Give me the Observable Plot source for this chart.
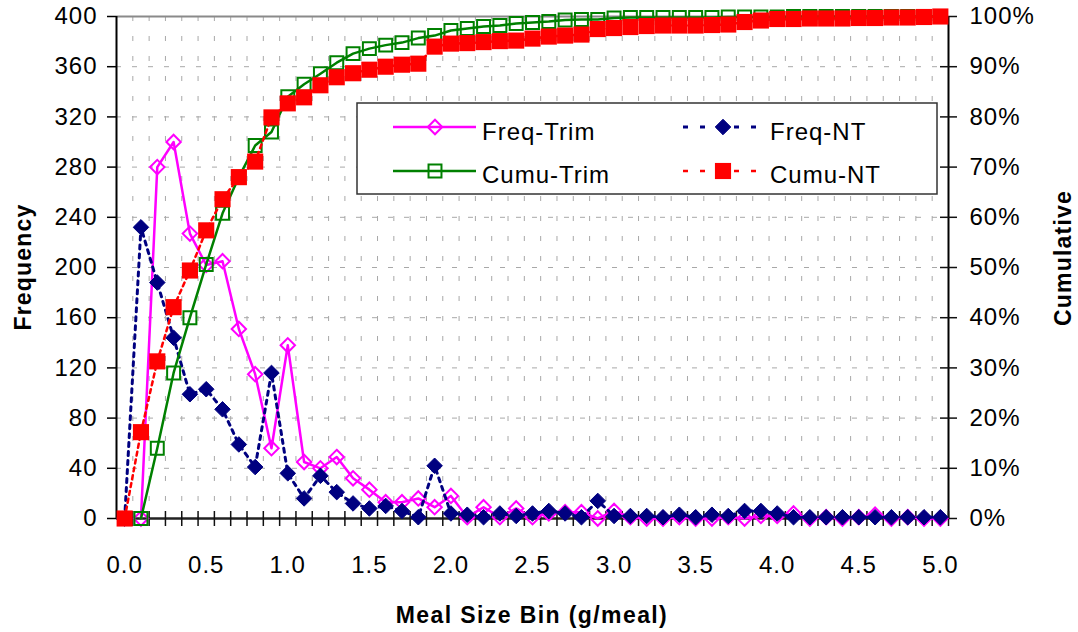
<!DOCTYPE html>
<html><head><meta charset="utf-8">
<script src="https://cdn.jsdelivr.net/npm/d3@7"></script>
<script src="https://cdn.jsdelivr.net/npm/@observablehq/plot@0.6"></script>
<style>
html,body{margin:0;padding:0;background:#fff}
#wrap{position:relative;width:1078px;height:632px;overflow:hidden;font-family:"Liberation Sans",Arial,sans-serif}
#wrap svg{position:absolute;left:0;top:0}
</style></head><body><div id="wrap"></div>
<script>
// ---- data ----
const bins = [0.0,0.1,0.2,0.3,0.4,0.5,0.6,0.7,0.8,0.9,1.0,1.1,1.2,1.3,1.4,1.5,1.6,1.7,1.8,1.9,2.0,2.1,2.2,2.3,2.4,2.5,2.6,2.7,2.8,2.9,3.0,3.1,3.2,3.3,3.4,3.5,3.6,3.7,3.8,3.9,4.0,4.1,4.2,4.3,4.4,4.5,4.6,4.7,4.8,4.9,5.0];
const freqTrim = [null,0,280,300,227,202,205,151,115,56,138,45,40,49,32,23,13,13,16,9,18,1,9,1,8,1,4,5,5,0,6,1,0,0,1,0,0,1,0,2,2,4,0,1,0,1,3,0,1,0,0];
const freqNT = [0,232,188,144,99,103,87,59,41,116,36,16,34,21,12,8,10,6,1,42,4,3,1,4,2,4,6,4,1,14,2,2,2,1,3,1,3,2,6,6,4,1,1,1,1,1,1,1,1,1,1];
const cumuTrim = [null,0,14,29,40,50.6,60.8,68,74.3,77,84,86.5,88.6,90.8,92.6,93.6,94.3,94.8,95.7,96.2,97.2,97.6,98,98.2,98.6,98.8,99,99.3,99.4,99.4,99.7,99.8,99.8,99.8,99.8,99.8,99.8,99.9,99.9,99.9,99.9,100,100,100,100,100,100,100,100,100,100];
const cumuNT = [0,17.2,31.3,42.1,49.4,57.4,63.6,68,71.1,79.9,82.7,83.9,86.3,87.9,88.7,89.4,90,90.4,90.6,94,94.6,94.7,94.9,95.1,95.2,95.6,96,96.2,96.4,97.5,97.7,97.9,98.1,98.2,98.2,98.2,98.3,98.4,98.9,99.2,99.5,99.5,99.6,99.6,99.6,99.7,99.7,99.8,99.8,99.9,100];
const seriesNames = ["Freq-Trim","Freq-NT","Cumu-Trim","Cumu-NT"];
const freqTicks = [0,40,80,120,160,200,240,280,320,360,400];
const xTickLabels = [0.0,0.5,1.0,1.5,2.0,2.5,3.0,3.5,4.0,4.5,5.0];
const xTitle = "Meal Size Bin (g/meal)";
const yTitleLeft = "Frequency";
const yTitleRight = "Cumulative";

// ---- derived table ----
const rows = bins.map((b, i) => ({bin: b, ft: freqTrim[i], fn: freqNT[i], ct: cumuTrim[i], cn: cumuNT[i]}));
const half = 0.05;
const xDomain = [bins[0] - half, bins[bins.length - 1] + half];
const boundaries = bins.map(b => +(b + half).toFixed(2));
const pctToFreq = 400 / 100;

const colors = {ft: "#FF00FF", fn: "#000080", ct: "#008000", cn: "#FF0000"};
const FONT = '"Liberation Sans", Arial, sans-serif';
const sizes = {ft: 6.5, fn: 7, ct: 7.3, cn: 9.1};

const plot = Plot.plot({
  width: 1078, height: 632,
  marginLeft: 116, marginRight: 130, marginTop: 16, marginBottom: 114,
  x: {domain: xDomain},
  y: {domain: [0, 400]},
  style: {fontFamily: FONT, fontSize: "24px", letterSpacing: "1px", color: "#000", background: "transparent"},
  marks: [
    Plot.gridY(freqTicks.filter(t => t > 0 && t < 400), {stroke: "#a8a8a8", strokeOpacity: 1, strokeWidth: 1, strokeDasharray: "5,11"}),
    Plot.gridX(boundaries.filter(b => b < xDomain[1]), {stroke: "#a8a8a8", strokeOpacity: 1, strokeWidth: 1, strokeDasharray: "5,15"}),
    Plot.ruleY([400], {stroke: "#8a8a8a", strokeWidth: 2}),
    Plot.ruleX([xDomain[0]], {stroke: "#000", strokeWidth: 2}),
    Plot.ruleX([xDomain[1]], {stroke: "#000", strokeWidth: 2}),
    Plot.ruleY([0], {stroke: "#222", strokeWidth: 2.5}),
    Plot.ruleX(boundaries, {y1: 0, y2: 0, insetTop: 8, insetBottom: 7, stroke: "#111", strokeWidth: 1.5}),
    Plot.ruleY(freqTicks, {x1: xDomain[1], x2: xDomain[1], insetLeft: 9, insetRight: 8, stroke: "#111", strokeWidth: 1.5}),
    Plot.axisY({ticks: freqTicks, tickSize: 9, tickPadding: 10, label: null, strokeWidth: 1.5}),
    Plot.axisY({anchor: "right", ticks: freqTicks, tickSize: 0, tickPadding: 21, label: null, tickFormat: d => `${d / pctToFreq}%`}),
    Plot.axisX({ticks: xTickLabels, tickSize: 0, tickPadding: 37, label: null, tickFormat: d => d.toFixed(1)}),
    // Freq-Trim
    Plot.line(rows.filter(d => d.ft != null), {x: "bin", y: "ft", stroke: colors.ft, strokeWidth: 2.5}),
    Plot.dot(rows.filter(d => d.ft != null), {x: "bin", y: "ft", symbol: "diamond2", r: sizes.ft, stroke: colors.ft, strokeWidth: 2, fill: "none"}),
    // Freq-NT
    Plot.line(rows, {x: "bin", y: "fn", stroke: colors.fn, strokeWidth: 3, strokeDasharray: "4,5"}),
    Plot.dot(rows, {x: "bin", y: "fn", symbol: "diamond2", r: sizes.fn, fill: colors.fn, stroke: colors.fn, strokeWidth: 1}),
    // Cumu-Trim
    Plot.line(rows.filter(d => d.ct != null), {x: "bin", y: d => d.ct * pctToFreq, stroke: colors.ct, strokeWidth: 2.5}),
    Plot.dot(rows.filter(d => d.ct != null), {x: "bin", y: d => d.ct * pctToFreq, symbol: "square", r: sizes.ct, stroke: colors.ct, strokeWidth: 2, fill: "none"}),
    // Cumu-NT
    Plot.line(rows, {x: "bin", y: d => d.cn * pctToFreq, stroke: colors.cn, strokeWidth: 2.5, strokeDasharray: "4,4"}),
    Plot.dot(rows, {x: "bin", y: d => d.cn * pctToFreq, symbol: "square", r: sizes.cn, fill: colors.cn, stroke: "none"})
  ]
});
const wrap = document.getElementById("wrap");
wrap.appendChild(plot);

// ---- overlay: titles & legend ----
const ov = d3.select(wrap).append("svg").attr("width", 1078).attr("height", 632)
  .style("pointer-events", "none").style("font-family", FONT);

ov.append("text").attr("transform", "translate(31,267) rotate(-90)").attr("text-anchor", "middle")
  .style("font-size", "23px").style("font-weight", "bold").style("letter-spacing", "1.2px").text(yTitleLeft);
ov.append("text").attr("transform", "translate(1071,258) rotate(-90)").attr("text-anchor", "middle")
  .style("font-size", "23px").style("font-weight", "bold").style("letter-spacing", "1.2px").text(yTitleRight);
ov.append("text").attr("x", 532).attr("y", 623).attr("text-anchor", "middle")
  .style("font-size", "23px").style("font-weight", "bold").style("letter-spacing", "1.4px").text(xTitle);

const lg = ov.append("g");
lg.append("rect").attr("x", 357).attr("y", 103).attr("width", 580).attr("height", 91)
  .attr("fill", "#fff").attr("stroke", "#333").attr("stroke-width", 1.5);

const area = r => Math.PI * r * r;
const legendItems = [
  {name: seriesNames[0], col: 0, row: 0, color: colors.ft, dash: null, w: 2.5, sym: d3.symbolDiamond2, r: sizes.ft, fill: "none", sw: 2},
  {name: seriesNames[1], col: 1, row: 0, color: colors.fn, dash: "5,12", w: 3, sym: d3.symbolDiamond2, r: sizes.fn, fill: colors.fn, sw: 1},
  {name: seriesNames[2], col: 0, row: 1, color: colors.ct, dash: null, w: 2.5, sym: d3.symbolSquare, r: sizes.ct, fill: "none", sw: 2},
  {name: seriesNames[3], col: 1, row: 1, color: colors.cn, dash: "5,12", w: 2.5, sym: d3.symbolSquare, r: sizes.cn, fill: colors.cn, sw: 0}
];
const colX = [{l: 393, m: 435, r: 476, t: 482}, {l: 683, m: 723, r: 763, t: 770}];
const rowY = [{line: 127, base: 140}, {line: 171, base: 183}];
for (const it of legendItems) {
  const cx = colX[it.col], ry = rowY[it.row];
  const ln = lg.append("line").attr("x1", cx.l).attr("x2", cx.r).attr("y1", ry.line).attr("y2", ry.line)
    .attr("stroke", it.color).attr("stroke-width", it.w);
  if (it.dash) ln.attr("stroke-dasharray", it.dash);
  lg.append("path").attr("d", d3.symbol(it.sym, area(it.r))())
    .attr("transform", `translate(${cx.m},${ry.line})`)
    .attr("fill", it.fill).attr("stroke", it.sw ? it.color : "none").attr("stroke-width", it.sw);
  lg.append("text").attr("x", cx.t).attr("y", ry.base).style("font-size", "24px").style("letter-spacing", "1px")
    .attr("fill", "#000").text(it.name);
}
</script>
</body></html>
